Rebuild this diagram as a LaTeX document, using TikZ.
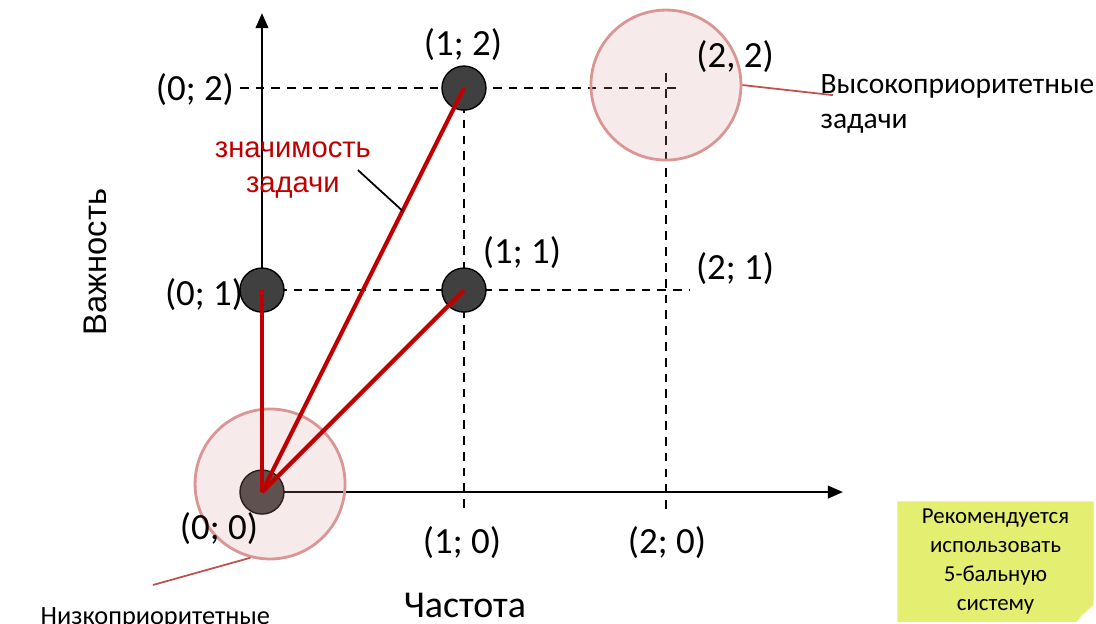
\documentclass[tikz,border=0pt]{standalone}
\usepackage{fontspec}
\setmainfont{Carlito}
\newfontfamily\arialfont{Liberation Sans}
\usetikzlibrary{arrows.meta, positioning, calc, backgrounds}

\definecolor{dotgray}{HTML}{404040}
\definecolor{sigred}{HTML}{C00000}
\definecolor{rose}{HTML}{D99694}
\definecolor{leadred}{HTML}{C0504D}
\definecolor{noteyel}{HTML}{E4EE70}
\definecolor{notefold}{HTML}{F3F8B8}

\begin{document}
\begin{tikzpicture}[
  x=2.02cm, y=2.02cm,
  axis/.style={line width=0.6pt, -{Triangle[length=4.3pt, width=3.6pt]}},
  gridline/.style={line width=0.45pt, dash pattern=on 2.5pt off 2pt},
  task/.style={circle, fill=dotgray, draw=black, line width=0.4pt, minimum size=0.44cm, inner sep=0pt},
  zone/.style={circle, draw=rose, line width=0.8pt, fill=rose, fill opacity=0.2, minimum size=1.5cm, inner sep=0pt},
  weight/.style={draw=sigred, line width=1.2pt},
  coord/.style={font=\fontsize{10.5}{12.6}\selectfont},
  prio/.style={inner sep=0pt, align=left},
  lead/.style={draw=leadred, line width=0.5pt},
]

\useasboundingbox (-1.297,-0.649) rectangle (4.129,2.436);

% Grid
\draw[gridline] (-0.11,2) -- (2.07,2);
\draw[gridline] (0,1) -- (2.12,1);
\draw[gridline] (1,2) -- (1,-0.1);
\draw[gridline] (2,2.074) -- (2,-0.1);

% Axes
\draw[axis] (0,0) -- (0,2.371);
\draw[axis] (0,0) -- (2.876,0);

% Tasks
\node[task] (t00) at (0,0) {};
\node[task] (t01) at (0,1) {};
\node[task] (t11) at (1,1) {};
\node[task] (t12) at (1,2) {};

% Priority zones
\node[zone] (lo) at (0.04,0.04) {};
\node[zone] (hi) at (2,2.015) {};

% Task weights
\draw[weight] (t00.center) -- (t01.center);
\draw[weight] (t00.center) -- (t11.center);
\draw[weight] (t00.center) -- (t12.center);

% Coordinates
\node[coord] (l02) at (-0.332,1.995) {(0; 2)};
\node[coord] (l12) at (0.995,2.213) {(1; 2)};
\node[coord] (l22) at (2.342,2.158) {(2, 2)};
\node[coord] (l01) at (-0.287,0.98) {(0; 1)};
\node[coord] (l11) at (1.287,1.188) {(1; 1)};
\node[coord] (l21) at (2.342,1.104) {(2; 1)};
\node[coord] (l00) at (-0.213,-0.183) {(0; 0)};
\node[coord] (l10) at (0.99,-0.248) {(1; 0)};
\node[coord] (l20) at (2.005,-0.248) {(2; 0)};

% Axis titles
\node[font=\fontsize{10.8}{12}\selectfont] (xlab) at (1.005,-0.56) {Частота};
\node[font=\arialfont\fontsize{9.3}{10}\selectfont, rotate=90] (ylab) at (-0.827,1.139) {Важность};

% Weight label
\node[font=\arialfont\fontsize{8.3}{9.7}\selectfont, text=sigred, align=center] (sig) at (0.153,1.594) {значимость\\задачи};
\coordinate (sigtail) at (0.475,1.594);
\coordinate (pick) at ($(t00.center)!0.696!(t12.center)$);
\draw[line width=0.5pt] (sigtail) -- (pick);

% Zone labels
\node[prio, font=\fontsize{8.4}{10}\selectfont, anchor=north west] (hilab) at (2.762,2.07) {Высокоприоритетные\\задачи};
\coordinate (hitail) at (2.827,1.965);
\draw[lead] (hi.east) -- (hitail);
\node[prio, font=\fontsize{7.5}{10}\selectfont, anchor=base west] (lolab) at (-1.099,-0.658) {Низкоприоритетные};
\coordinate (lotail) at (-0.540,-0.460);
\draw[lead] (lo.255) -- (lotail);

% Note
\node[font=\fontsize{6.5}{8.3}\selectfont, align=center, inner ysep=0.5pt, minimum width=1.95cm, minimum height=1.19cm] (note) at (3.6315,-0.3445) {Рекомендуется\\использовать\\5-бальную\\систему};
\begin{scope}[on background layer]
\fill[noteyel] (note.north west) -- (note.north east) -- ($(note.south east)+(0,0.085)$) -- ($(note.south east)+(-0.085,0)$) -- (note.south west) -- cycle;
\fill[notefold] ($(note.south east)+(0,0.085)$) -- ($(note.south east)+(-0.085,0)$) -- ($(note.south east)+(-0.06,0.035)$) -- cycle;
\end{scope}

\end{tikzpicture}
\end{document}
